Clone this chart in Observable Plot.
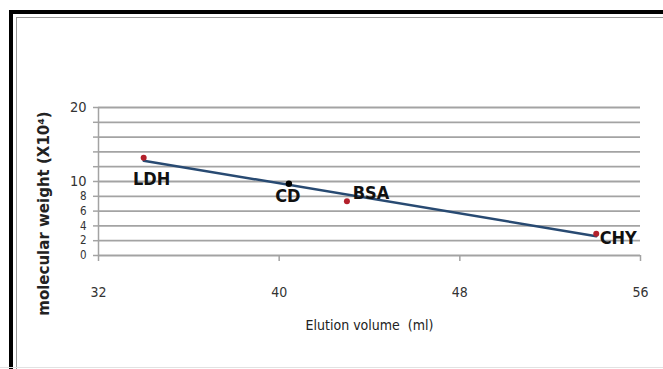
<!DOCTYPE html>
<html>
<head>
<meta charset="utf-8">
<script src="https://cdn.jsdelivr.net/npm/d3@7"></script>
<script src="https://cdn.jsdelivr.net/npm/@observablehq/plot@0.6"></script>
<style>
  html, body { margin: 0; padding: 0; background: #fff; }
  #wrap { position: relative; width: 663px; height: 369px; overflow: hidden; background: #fff; }
  #wrap svg { position: absolute; left: 0; top: 0; }
  .b1 { position: absolute; left: 9px; top: 10px; width: 700px; height: 400px;
        border-left: 4.5px solid #000; border-top: 4.5px solid #000; box-sizing: border-box; pointer-events: none; }
  .b2 { position: absolute; left: 15.5px; top: 16.5px; width: 700px; height: 400px;
        border-left: 1.6px solid #9a9a9a; border-top: 1.6px solid #9a9a9a; box-sizing: border-box; pointer-events: none; }
  .b3 { position: absolute; left: 0; top: 367px; width: 663px; height: 0;
        border-top: 1.5px solid #e2e2e2; pointer-events: none; }
</style>
</head>
<body>
<div id="wrap"></div>
<script>
// ---- data ----
const proteins = ["LDH", "CD", "BSA", "CHY"];
const elutionVolumes = [34.0, 40.43, 43.0, 54.04];   // ml
const molecularWeights = [13.2, 9.7, 7.34, 2.95];     // x10^4
const kinds = ["standard", "sample", "standard", "standard"];

const xTicks = [32, 40, 48, 56];
const yGrid = [0, 2, 4, 6, 8, 10, 12, 14, 16, 18, 20];
const yLabelsLarge = [10, 20];
const yLabelsSmall = [0, 2, 4, 6, 8];

const data = proteins.map((p, i) => ({
  protein: p, volume: elutionVolumes[i], weight: molecularWeights[i], kind: kinds[i]
}));

// ---- styles / label placement ----
const cond = "'DejaVu Sans Condensed', 'Liberation Sans Narrow', 'Liberation Sans', sans-serif";
const labelOffsets = { LDH: [8, 21], CD: [-1, 13], BSA: [24, -8], CHY: [22, 5] };
const gridColor = "#a3a3a3";

const labelMarks = proteins.map(p => Plot.text(data.filter(d => d.protein === p), {
  x: "volume", y: "weight", text: "protein",
  dx: labelOffsets[p][0], dy: labelOffsets[p][1],
  fontSize: 18, fontWeight: "bold", fill: "#111", fontFamily: cond,
  textAnchor: "middle", lineAnchor: "middle"
}));

const chart = Plot.plot({
  width: 663,
  height: 369,
  marginLeft: 98,
  marginRight: 23,
  marginTop: 107,
  marginBottom: 114,
  style: { background: "transparent", fontFamily: cond },
  x: { type: "linear", domain: [32, 56] },
  y: { type: "linear", domain: [0, 20] },
  marks: [
    Plot.ruleY(yGrid, { stroke: gridColor, strokeWidth: 1.8 }),
    Plot.axisY(yGrid, { tickSize: 5, tickFormat: () => "", stroke: gridColor, strokeWidth: 1.5, label: null }),
    Plot.ruleX([32], { y1: 0, y2: 20, stroke: gridColor, strokeWidth: 1.5 }),
    Plot.axisX(xTicks, { tickSize: 6, tickPadding: 26, stroke: gridColor, strokeWidth: 1.5,
      fontSize: 14, fill: "#333", fontFamily: cond, label: null }),
    Plot.axisY(yLabelsLarge, { tickSize: 0, tickPadding: 12, fontSize: 14.5, fill: "#333", fontFamily: cond, label: null }),
    Plot.axisY(yLabelsSmall, { tickSize: 0, tickPadding: 12, fontSize: 11.5, fill: "#333", fontFamily: cond, label: null }),
    Plot.text(["Elution volume  (ml)"], { frameAnchor: "bottom", dy: 74, fontSize: 14,
      fill: "#222", fontFamily: cond }),
    Plot.text(["molecular weight (X10⁴)"], { frameAnchor: "left", textAnchor: "middle", dx: -54, dy: 32, rotate: -90,
      fontSize: 15, fontWeight: "bold", fill: "#222", fontFamily: "'DejaVu Sans', sans-serif" }),
    Plot.linearRegressionY(data, { x: "volume", y: "weight", ci: 0, stroke: "#284a72", strokeWidth: 2.5 }),
    Plot.dot(data, { x: "volume", y: "weight", r: d => d.kind === "sample" ? 3.5 : 3,
      fill: d => d.kind === "sample" ? "#000" : "#b3202b", stroke: "none" }),
    ...labelMarks
  ]
});

const wrap = document.getElementById("wrap");
wrap.appendChild(chart);
["b1", "b2", "b3"].forEach(c => { const d = document.createElement("div"); d.className = c; wrap.appendChild(d); });
</script>
</body>
</html>
